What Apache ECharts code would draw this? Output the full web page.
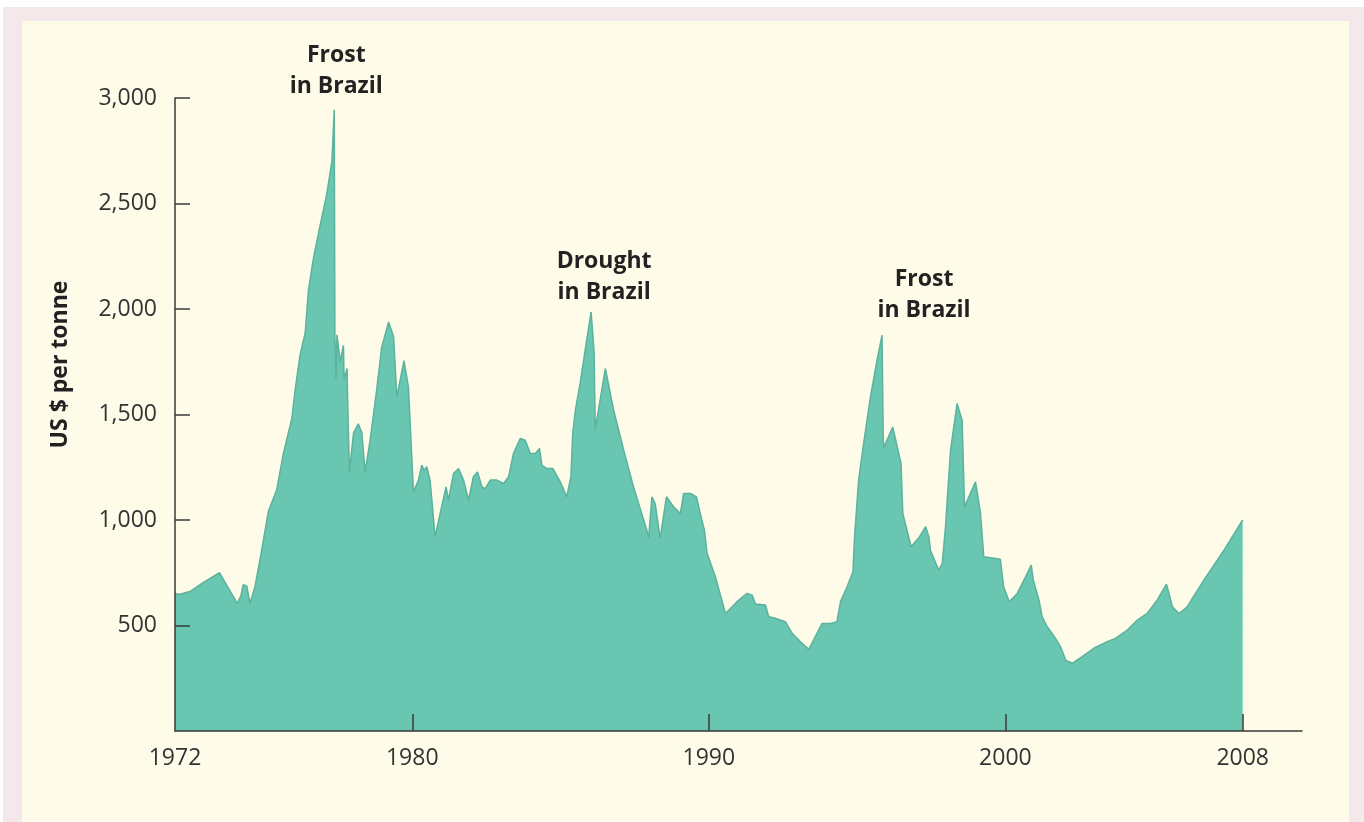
<!DOCTYPE html>
<html>
<head>
<meta charset="utf-8">
<title>Coffee prices</title>
<script src="https://cdn.jsdelivr.net/npm/echarts@6/dist/echarts.min.js"></script>
<style>
    html, body { margin: 0; padding: 0; background: #ffffff; }
    #frame { position: absolute; left: 3px; top: 7px; right: 0; bottom: 0; background: #F5E8EA; }
    #paper { position: absolute; left: 22px; top: 21px; right: 15px; bottom: 0; background: #FEFBE9; }
    #chart { position: absolute; left: 0; top: 0; width: 1364px; height: 822px; }
</style>
</head>
<body>
<div id="frame"></div>
<div id="paper"></div>
<div id="chart"></div>
<script>
// coffee price, US $ per tonne
var years = [
    1972.0, 1972.17, 1972.5, 1972.95, 1973.5, 1973.8, 1974.1, 1974.22, 1974.3, 1974.42,
    1974.53, 1974.7, 1974.92, 1975.15, 1975.43, 1975.65, 1975.94, 1976.05, 1976.22, 1976.39,
    1976.5, 1976.67, 1976.89, 1977.12, 1977.29, 1977.37, 1977.39, 1977.43, 1977.46, 1977.57,
    1977.68, 1977.7, 1977.8, 1977.83, 1977.88, 1978.02, 1978.18, 1978.3, 1978.41, 1978.58,
    1978.8, 1978.97, 1979.2, 1979.37, 1979.48, 1979.72, 1979.87, 1980.04, 1980.21, 1980.32,
    1980.4, 1980.49, 1980.6, 1980.77, 1980.94, 1981.14, 1981.22, 1981.39, 1981.56, 1981.73,
    1981.9, 1982.06, 1982.2, 1982.35, 1982.46, 1982.63, 1982.85, 1983.08, 1983.25, 1983.41,
    1983.64, 1983.81, 1983.98, 1984.15, 1984.29, 1984.37, 1984.54, 1984.74, 1984.99, 1985.21,
    1985.35, 1985.41, 1985.5, 1985.66, 1985.83, 1986.03, 1986.13, 1986.17, 1986.51, 1986.79,
    1987.13, 1987.46, 1987.91, 1987.97, 1988.08, 1988.19, 1988.36, 1988.57, 1988.81, 1989.04,
    1989.15, 1989.38, 1989.58, 1989.71, 1989.85, 1989.94, 1990.22, 1990.56, 1990.95, 1991.29,
    1991.46, 1991.57, 1991.91, 1992.02, 1992.24, 1992.58, 1992.81, 1993.09, 1993.37, 1993.59,
    1993.82, 1994.1, 1994.32, 1994.44, 1994.66, 1994.86, 1994.91, 1995.05, 1995.22, 1995.45,
    1995.67, 1995.84, 1995.88, 1995.9, 1996.2, 1996.48, 1996.54, 1996.82, 1997.1, 1997.31,
    1997.42, 1997.47, 1997.75, 1997.87, 1997.98, 1998.15, 1998.37, 1998.54, 1998.62, 1998.99,
    1999.16, 1999.27, 1999.83, 1999.94, 2000.13, 2000.4, 2000.68, 2000.87, 2000.94, 2001.13,
    2001.24, 2001.41, 2001.69, 2001.86, 2002.03, 2002.25, 2002.59, 2002.98, 2003.43, 2003.71,
    2004.11, 2004.45, 2004.78, 2005.12, 2005.43, 2005.63, 2005.85, 2006.13, 2006.69, 2007.37,
    2008.0
]
var prices = [
    650, 648, 661, 703, 750, 677, 605, 640, 694, 686,
    605, 686, 855, 1041, 1143, 1312, 1481, 1616, 1785, 1887,
    2090, 2242, 2394, 2547, 2699, 2944, 1880, 1670, 1878, 1752,
    1828, 1667, 1718, 1515, 1227, 1413, 1456, 1413, 1227, 1380,
    1616, 1819, 1938, 1870, 1582, 1755, 1631, 1134, 1189, 1260,
    1236, 1252, 1189, 920, 1031, 1157, 1094, 1220, 1244, 1189,
    1094, 1205, 1228, 1157, 1149, 1189, 1189, 1173, 1205, 1315,
    1386, 1378, 1315, 1315, 1339, 1260, 1244, 1244, 1181, 1110,
    1205, 1410, 1521, 1647, 1805, 1986, 1800, 1430, 1718, 1521,
    1331, 1157, 952, 913, 1110, 1078, 913, 1110, 1063, 1031,
    1126, 1126, 1110, 1031, 952, 842, 731, 557, 613, 652,
    644, 602, 597, 541, 534, 518, 463, 423, 387, 447,
    510, 510, 518, 613, 684, 755, 913, 1189, 1363, 1584,
    1757, 1876, 1380, 1345, 1441, 1268, 1031, 873, 920, 968,
    920, 857, 763, 794, 968, 1331, 1552, 1473, 1063, 1181,
    1031, 826, 814, 684, 613, 652, 731, 786, 715, 621,
    541, 494, 439, 399, 336, 321, 352, 392, 423, 439,
    478, 526, 557, 621, 696, 589, 557, 589, 715, 857,
    1000
]
var yearLabels = [1972, 1980, 1990, 2000, 2008]
var yearTicks = [1980, 1990, 2000, 2008]
var priceTicks = [500, 1000, 1500, 2000, 2500, 3000]

// events written over the peaks
var eventNames = ['Frost\nin Brazil', 'Drought\nin Brazil', 'Frost\nin Brazil']
var eventYears = [1977.37, 1986.03, 1995.84]
var eventPrices = [2944, 1986, 1876]
var eventShift = [[2, -8], [13, -4], [42, -9]]

var chart = echarts.init(document.getElementById('chart'))

chart.setOption({
    animation: false,
    textStyle: { fontFamily: 'Open Sans' },
    grid: {
        left: 175,
        right: 62,
        top: 98,
        bottom: 91
    },
    xAxis: {
        type: 'value',
        min: 1972,
        max: 2010,
        z: 10,
        splitLine: { show: false },
        axisLine: { lineStyle: { color: '#3a3a3a', width: 1.5 } },
        axisTick: {
            inside: true,
            length: 17,
            customValues: yearTicks,
            lineStyle: { color: '#3a3a3a', width: 1.5 }
        },
        axisLabel: {
            customValues: yearLabels,
            margin: 16,
            color: '#333',
            fontSize: 23,
            formatter: function(v) {
                return String(v)
            }
        }
    },
    yAxis: {
        type: 'value',
        min: 0,
        max: 3000,
        z: 10,
        name: 'US $ per tonne',
        nameLocation: 'middle',
        nameGap: 103,
        nameTextStyle: {
            color: '#222',
            fontSize: 23,
            fontWeight: 'bold',
            padding: [0, 0, 0, 100]
        },
        splitLine: { show: false },
        axisLine: { show: true, lineStyle: { color: '#3a3a3a', width: 1.5 } },
        axisTick: {
            inside: true,
            length: 15,
            customValues: priceTicks,
            lineStyle: { color: '#3a3a3a', width: 1.5 }
        },
        axisLabel: {
            customValues: priceTicks,
            margin: 18,
            color: '#333',
            fontSize: 23,
            formatter: function(v) {
                return v.toLocaleString('en-US')
            }
        }
    },
    series: [
        {
            type: 'line',
            data: years.map(function(y, i) {
                return [y, prices[i]]
            }),
            symbol: 'none',
            lineStyle: { color: '#5BB29E', width: 1.5 },
            areaStyle: { color: '#69C6B0', opacity: 1 },
            markPoint: {
                symbol: 'circle',
                symbolSize: 0,
                silent: true,
                label: {
                    show: true,
                    position: 'top',
                    distance: 0,
                    color: '#222',
                    fontSize: 23,
                    fontWeight: 'bold',
                    lineHeight: 31,
                    align: 'center'
                },
                data: eventNames.map(function(name, i) {
                    return {
                        coord: [eventYears[i], eventPrices[i]],
                        label: { formatter: name, offset: eventShift[i] }
                    }
                })
            }
        }
    ]
})
</script>
</body>
</html>
